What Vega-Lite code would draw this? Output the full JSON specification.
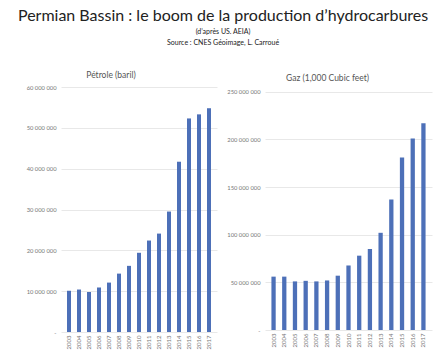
{
  "$schema": "https://vega.github.io/schema/vega-lite/v6.json",
  "background": "white",
  "padding": {"left": 17, "top": 7, "right": 7, "bottom": 1},
  "title": {
    "text": "Permian Bassin : le boom de la production d’hydrocarbures",
    "subtitle": ["(d’après US. AEIA)", "Source : CNES Géoimage, L. Carroué"],
    "font": "Lato", "fontSize": 16, "fontWeight": "normal", "color": "#222",
    "subtitleFont": "Lato", "subtitleFontSize": 7, "subtitleColor": "#222",
    "subtitlePadding": 4, "subtitleLineHeight": 11, "anchor": "middle", "offset": 25, "dx": -6
  },
  "datasets": {
    "prod": [
      {"annee": "2003", "petrole": 10100000, "gaz": 56000000},
      {"annee": "2004", "petrole": 10400000, "gaz": 56000000},
      {"annee": "2005", "petrole": 9800000, "gaz": 51000000},
      {"annee": "2006", "petrole": 10900000, "gaz": 51600000},
      {"annee": "2007", "petrole": 12100000, "gaz": 51000000},
      {"annee": "2008", "petrole": 14300000, "gaz": 52000000},
      {"annee": "2009", "petrole": 16200000, "gaz": 57000000},
      {"annee": "2010", "petrole": 19400000, "gaz": 67700000},
      {"annee": "2011", "petrole": 22400000, "gaz": 78000000},
      {"annee": "2012", "petrole": 24100000, "gaz": 85000000},
      {"annee": "2013", "petrole": 29500000, "gaz": 102000000},
      {"annee": "2014", "petrole": 41700000, "gaz": 137000000},
      {"annee": "2015", "petrole": 52300000, "gaz": 181000000},
      {"annee": "2016", "petrole": 53300000, "gaz": 201000000},
      {"annee": "2017", "petrole": 54800000, "gaz": 217000000}
    ]
  },
  "config": {
    "view": {"stroke": null},
    "font": "Lato",
    "title": {"font": "Lato", "fontSize": 8.5, "fontWeight": "normal", "color": "#555"},
    "axis": {
      "labelFont": "Lato", "labelFontSize": 5.8, "labelColor": "#777",
      "domain": false, "ticks": false, "labelOverlap": false,
      "gridColor": "#e2e2e2", "gridWidth": 0.8
    },
    "axisX": {"labelAngle": -90, "labelPadding": 3, "labelFontSize": 6, "grid": false},
    "axisY": {"labelPadding": 5}
  },
  "hconcat": [
    {
      "data": {"name": "prod"},
      "width": 156,
      "height": 245,
      "title": {"text": "Pétrole (baril)", "offset": 5, "dx": -28},
      "mark": {"type": "bar", "color": "#4d70b8"},
      "encoding": {
        "x": {"field": "annee", "type": "ordinal", "title": null, "scale": {"paddingInner": 0.6, "paddingOuter": 0.6}},
        "y": {
          "field": "petrole", "type": "quantitative", "title": null,
          "scale": {"domain": [0, 60000000], "nice": false},
          "axis": {
            "values": [0, 10000000, 20000000, 30000000, 40000000, 50000000, 60000000],
            "labelExpr": "datum.value == 0 ? '-' : replace(format(datum.value, ',d'), /,/g, ' ')"
          }
        }
      }
    },
    {
      "data": {"name": "prod"},
      "width": 167,
      "height": 243,
      "title": {"text": "Gaz (1,000 Cubic feet)", "offset": 5, "dx": -21},
      "mark": {"type": "bar", "color": "#4d70b8"},
      "encoding": {
        "x": {"field": "annee", "type": "ordinal", "title": null, "scale": {"paddingInner": 0.6, "paddingOuter": 0.6}},
        "y": {
          "field": "gaz", "type": "quantitative", "title": null,
          "scale": {"domain": [0, 255000000], "nice": false},
          "axis": {
            "values": [0, 50000000, 100000000, 150000000, 200000000, 250000000],
            "labelExpr": "datum.value == 0 ? '-' : replace(format(datum.value, ',d'), /,/g, ' ')"
          }
        }
      }
    }
  ],
  "spacing": 9
}
